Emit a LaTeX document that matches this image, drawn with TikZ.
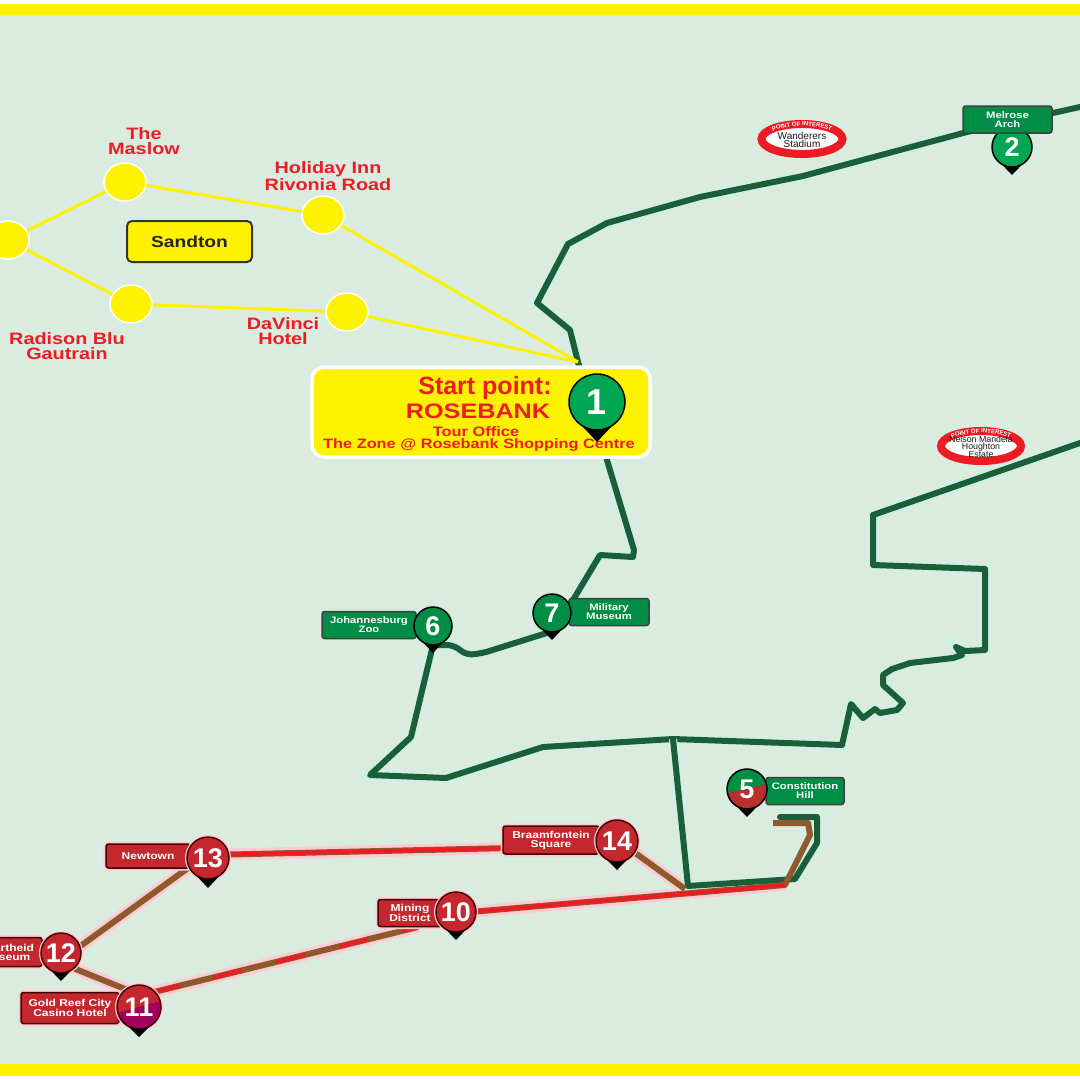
\documentclass[tikz,border=0pt]{standalone}
\usepackage{fontspec}
\setmainfont{Liberation Sans}
\newfontfamily\widefont[FakeStretch=1.2]{Liberation Sans}
\usetikzlibrary{shapes,positioning,decorations.text}
\definecolor{mapbg}{HTML}{D9ECDF}
\definecolor{signyellow}{HTML}{FFF200}
\definecolor{signred}{HTML}{ED1C24}
\definecolor{stopgreen}{HTML}{00A651}
\definecolor{tourgreen}{HTML}{1C5E3A}
\definecolor{tourbrown}{HTML}{8C5A2D}
\definecolor{stopred}{HTML}{C4272D}
\definecolor{halopink}{HTML}{FFCBD3}
\definecolor{halomint}{HTML}{C4F5E2}
\tikzstyle{hotel} = [ellipse, draw=white, line width=1.5pt, fill=signyellow,
    minimum width=42pt, minimum height=38pt, inner sep=0pt]
\tikzstyle{hotelname} = [text=signred, align=center, inner sep=0pt,
    font=\widefont\bfseries\fontsize{16.5}{15}\selectfont]
\tikzstyle{shuttle} = [draw=signyellow, line width=3pt]
\tikzstyle{greenroute} = [draw=tourgreen, line width=6pt, line join=round, line cap=round,
    preaction={draw=halomint, line width=8pt}]
\tikzstyle{halo} = [draw=halopink, line width=12pt, line join=round]
\tikzstyle{brownroute} = [draw=tourbrown, line width=6pt, line join=round]
\tikzstyle{redroute} = [draw=signred, line width=4pt, line join=round]
\tikzstyle{tag} = [rectangle, rounded corners=2.5pt, line width=1.5pt, text=white,
    align=center, minimum height=27pt, inner sep=0pt, outer sep=0pt,
    font=\widefont\bfseries\fontsize{10}{9}\selectfont]
\tikzstyle{greentag} = [tag, draw=black!75, fill=stopgreen!85!black,
    font=\widefont\bfseries\fontsize{9.4}{9}\selectfont]
\tikzstyle{redtag} = [tag, draw=black!75!red, fill=stopred,
    preaction={draw=halopink, line width=5pt}]
\tikzstyle{stop} = [circle, draw=black, line width=1.5pt, text=white, inner sep=0pt,
    outer sep=0pt, font=\bfseries\fontsize{27}{27}\selectfont]
\tikzstyle{greenstop} = [stop, fill=stopgreen!85!black]
\tikzstyle{redstop} = [stop, draw=black!70!red, fill=stopred,
    preaction={draw=halopink, line width=4pt}]
\tikzstyle{poi} = [ellipse, draw=signred, line width=8pt, fill=white, inner sep=0pt]
\tikzstyle{poitext} = [align=center, text=black!90, inner sep=0pt]
\tikzstyle{poiarc} = [decorate, decoration={text along path, text align=center,
    text={|\fontsize{6}{6}\selectfont\bfseries\color{white}|POINT OF INTEREST}}]
% stop marker: options, name, radius, tip length, number
\newcommand{\stopmark}[5][]{
  \node [minimum size=#3*2pt, #1] (#2) {#5};
  \fill [black] (#2.-150) -- ([yshift=-#4pt]#2.south) -- (#2.-30)
    arc [start angle=-30, end angle=-150, radius=#3pt] -- cycle;
}
\begin{document}
\begin{tikzpicture}[x=1pt, y=-1pt]
  \useasboundingbox (0,0) rectangle (1080,1080);
  \clip (0,0) rectangle (1080,1080);
  \fill [white] (0,0) rectangle (1080,1080);
  \fill [mapbg] (0,15) rectangle (1080,1064);
  \fill [signyellow] (0,4) rectangle (1080,15);
  \fill [signyellow] (0,1064) rectangle (1080,1076);

  % Route ends and forks
  \coordinate (eastnorth) at (1080,107);
  \coordinate (eastsouth) at (1080,443);
  \coordinate (rosebank) at (578,362);
  \coordinate (fork) at (673,739);
  \coordinate (bend) at (688,886);
  \coordinate (zoostop) at (433,645);
  \coordinate (musstop) at (550,632);
  \coordinate (brownend) at (773,823);
  \coordinate (greenend) at (780,817);
  \coordinate (redjoin) at (685,889);
  \coordinate (turn) at (785,885);
  \coordinate (west13) at (208,855);
  \coordinate (east14) at (510,848);
  \coordinate (south14) at (627,847);
  \coordinate (north12) at (75,950);
  \coordinate (north13) at (188,868);
  \coordinate (east12) at (68,966);
  \coordinate (north11) at (135,993);
  \coordinate (east11) at (150,993);
  \coordinate (south10) at (418,927);
  \coordinate (east10) at (470,912);

  % Pink glow under the red routes
  \path [halo] (west13) -- (east14);
  \path [halo] (north13) -- (north12);
  \path [halo] (east12) -- (north11);
  \path [halo] (east11) -- (south10);
  \path [halo] (east10) -- (turn);
  \path [halo] (south14) -- (redjoin);

  % Green routes
  \path [greenroute] (eastnorth) -- (967,132) -- (803,176) -- (700,197) -- (607,223) -- (568,244)
    -- (537,303) -- (570,330) -- (rosebank) -- (607,460) -- (634,550) -- (633,557) -- (600,555)
    -- (573,600) -- (musstop);
  \path [greenroute, rounded corners=6pt] (musstop) -- (483,653) -- (467,655) -- (453,645) -- (zoostop);
  \path [greenroute] (zoostop) -- (411,737) -- (370,775) -- (446,778) -- (543,747) -- (fork)
    -- (842,745) -- (851,704) -- (863,718) -- (875,709) -- (880,713) -- (897,710) -- (903,703)
    -- (883,685) -- (883,675) -- (892,669) -- (910,663) -- (953,658) -- (962,655) -- (956,647)
    -- (965,651) -- (985,650) -- (985,569) -- (873,565) -- (873,515) -- (eastsouth);
  \path [greenroute] (fork) -- (bend) -- (795,879) -- (817,843) -- (817,817) -- (greenend);

  % Red routes
  \path [brownroute] (west13) -- (east14);
  \path [brownroute] (north13) -- (north12);
  \path [brownroute] (east12) -- (north11);
  \path [brownroute] (east11) -- (south10);
  \path [brownroute] (east10) -- (turn) -- (810,835) -- (808,823) -- (brownend);
  \path [brownroute] (south14) -- (redjoin);
  \path [redroute] (west13) -- (east14);
  \path [redroute, dash pattern=on 30pt off 35pt] (east11) -- (south10);
  \path [redroute] (east10) -- (turn);

  % Sandton hotels
  \node [hotel] (hub) at (8,240) {};
  \node [hotel] (maslow) at (125,182) {};
  \node [hotel] (holiday) at (323,215) {};
  \node [hotel] (radison) at (131,304) {};
  \node [hotel] (davinci) at (347,312) {};
  \path [shuttle] (hub) -- (maslow);
  \path [shuttle] (hub) -- (radison);
  \path [shuttle] (maslow) -- (holiday);
  \path [shuttle] (radison) -- (davinci);
  \path [shuttle] (holiday) -- (rosebank);
  \path [shuttle] (davinci) -- (rosebank);
  \node [hotelname, above of=maslow, node distance=41pt, xshift=19pt] (maslowname) {The\\Maslow};
  \node [hotelname, above of=holiday, node distance=39pt, xshift=5pt] (holidayname) {Holiday Inn\\Rivonia Road};
  \node [hotelname, below of=radison, node distance=42pt, xshift=-64pt] (radisonname) {Radison Blu\\Gautrain};
  \node [hotelname, below of=davinci, node distance=19pt, xshift=-64pt] (davinciname) {DaVinci\\Hotel};
  \node [rectangle, rounded corners=5pt, draw=black!80, line width=2pt, fill=signyellow,
    minimum width=125pt, minimum height=41pt, font=\widefont\bfseries\fontsize{16}{16}\selectfont,
    text=black!85] (sandton) at (189.5,241.5) {Sandton};

  % Start point box
  \node [rectangle, rounded corners=12pt, draw=white, line width=3.5pt, fill=signyellow,
    minimum width=338pt, minimum height=90pt] (startbox) at (481,412) {};
  \node [text=signred, font=\bfseries\fontsize{25}{25}\selectfont, inner sep=0pt] (startline) at (485,388) {Start point:};
  \node [text=signred, font=\widefont\bfseries\fontsize{21}{21}\selectfont, inner sep=0pt] (startname) at (478,411) {ROSEBANK};
  \node [text=signred, font=\widefont\bfseries\fontsize{13.7}{14}\selectfont, inner sep=0pt] (startoffice) at (476,431.5) {Tour Office};
  \node [text=signred, font=\widefont\bfseries\fontsize{13.6}{14}\selectfont, inner sep=0pt] (startzone) at (479,445.5) {The Zone @ Rosebank Shopping Centre};
  \stopmark[greenstop, fill=stopgreen, font=\bfseries\fontsize{36}{36}\selectfont, at={(597,402)}]{p1}{28}{12}{1}

  % Points of interest
  \node [poi, minimum width=81pt, minimum height=30pt] (wanderers) at (802,139) {};
  \node [poitext, font=\fontsize{10}{7.5}\selectfont] (wandererstext) at (802,140) {Wanderers\\Stadium};
  \path [poiarc] ([shift={(-33,-6)}]wanderers.center) .. controls ([shift={(-15,-15.5)}]wanderers.center)
    and ([shift={(15,-15.5)}]wanderers.center) .. ([shift={(33,-6)}]wanderers.center);
  \node [poi, minimum width=80pt, minimum height=30pt] (mandela) at (981,446) {};
  \node [poitext, font=\fontsize{8.8}{6.8}\selectfont] (mandelatext) at (981,447) {Nelson Mandela\\Houghton\\Estate};
  \path [poiarc] ([shift={(-33,-6)}]mandela.center) .. controls ([shift={(-15,-15.5)}]mandela.center)
    and ([shift={(15,-15.5)}]mandela.center) .. ([shift={(33,-6)}]mandela.center);

  % Green stops
  \stopmark[greenstop, fill=stopgreen, at={(1012,147)}]{p2}{20}{8}{2}
  \node [greentag, minimum width=89pt, above of=p2, node distance=27.5pt, xshift=-4.5pt] (t2) {Melrose\\Arch};
  \node [greentag, minimum width=78pt] (t5) at (805,791) {Constitution\\Hill};
  \stopmark[greenstop, left of=t5, node distance=58pt, yshift=2pt, path picture={
    \fill [stopred!85!tourbrown] ([yshift=-4pt]path picture bounding box.west) -- ([yshift=5pt]path picture bounding box.east)
      -- (path picture bounding box.south east) -- (path picture bounding box.south west) -- cycle;
    }]{p5}{20}{8}{5}
  \node [greentag, minimum width=94pt] (t6) at (369,625) {Johannesburg\\Zoo};
  \stopmark[greenstop, right of=t6, node distance=64pt, yshift=-1pt]{p6}{19}{8}{6}
  \node [greentag, minimum width=80pt] (t7) at (609,612) {Military\\Museum};
  \stopmark[greenstop, left of=t7, node distance=57pt, yshift=-1pt]{p7}{19}{8}{7}

  % Red stops
  \node [redtag, minimum width=64pt] (t10) at (410,913) {Mining\\District};
  \stopmark[redstop, right of=t10, node distance=46pt, yshift=1pt]{p10}{20}{8}{10}
  \node [redtag, minimum width=98pt, minimum height=31pt] (t11) at (70,1008) {Gold Reef City\\Casino Hotel};
  \stopmark[redstop, right of=t11, node distance=69pt, yshift=1pt, path picture={
    \fill [purple!85!blue] ([yshift=-6pt]path picture bounding box.west) -- ([yshift=6pt]path picture bounding box.east)
      -- (path picture bounding box.south east) -- (path picture bounding box.south west) -- cycle;
    }]{p11}{22}{8}{11}
  \node [redtag, minimum width=72pt, minimum height=29pt] (t12) at (6,952) {Apartheid\\Museum};
  \stopmark[redstop, right of=t12, node distance=55pt, yshift=-1pt]{p12}{20}{8}{12}
  \node [redtag, minimum width=84pt, minimum height=24pt] (t13) at (148,856) {Newtown};
  \stopmark[redstop, right of=t13, node distance=60pt, yshift=-2pt]{p13}{21}{9}{13}
  \node [redtag, minimum width=96pt, minimum height=28pt] (t14) at (551,840) {Braamfontein\\Square};
  \stopmark[redstop, right of=t14, node distance=66pt, yshift=-1pt]{p14}{21}{8}{14}
\end{tikzpicture}
\end{document}
